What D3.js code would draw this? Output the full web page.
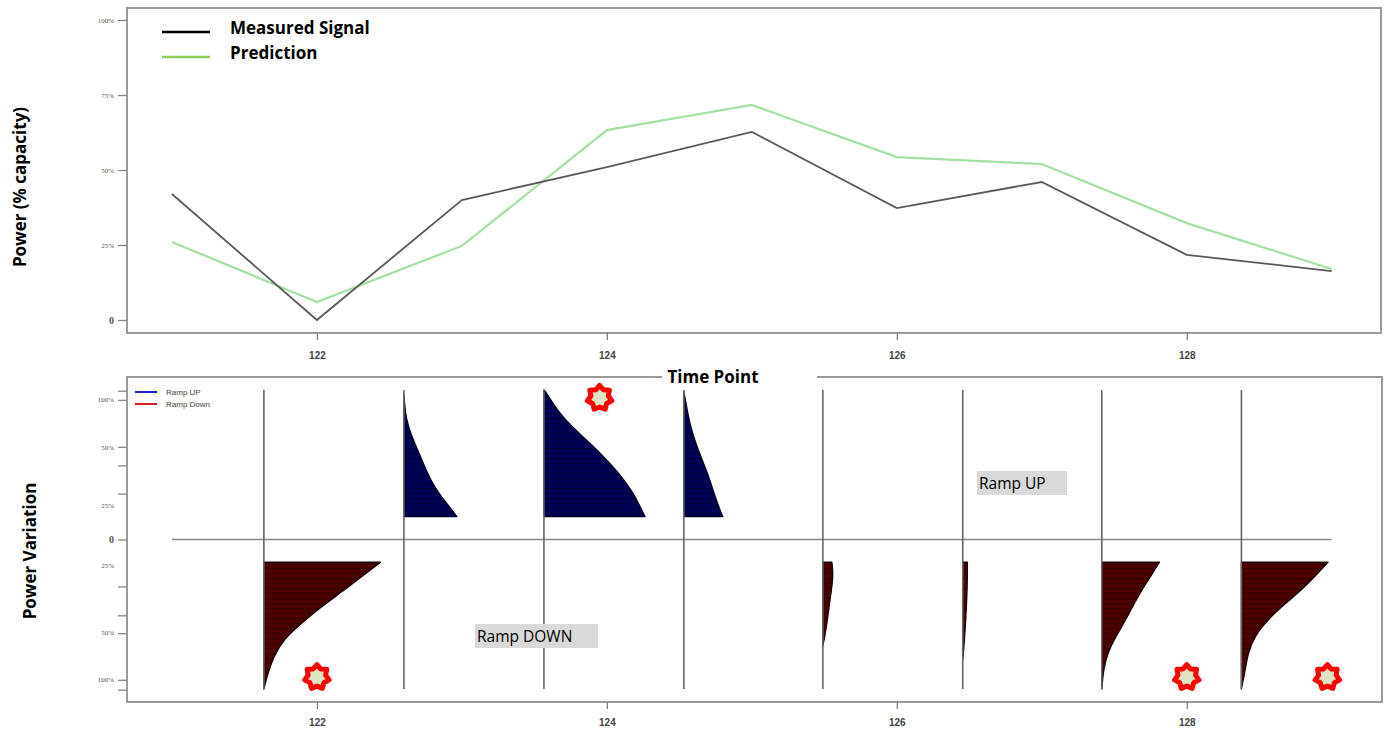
<!DOCTYPE html>
<html>
<head>
<meta charset="utf-8">
<script src="https://cdn.jsdelivr.net/npm/d3@7/dist/d3.min.js"></script>
<style>
  html, body { margin: 0; padding: 0; background: #fff; }
  svg { display: block; }
</style>
</head>
<body>
<svg id="chart" width="1392" height="735"></svg>
<script>
// ---- Power forecast data ----
const timePoints = [121, 122, 123, 124, 125, 126, 127, 128, 129];
const measured   = [42, 0, 40, 51, 62.7, 37.3, 46, 21.7, 16.3];
const prediction = [26, 6, 24.7, 63.3, 71.7, 54.3, 52, 32.3, 17];

const xTicks = [122, 124, 126, 128];
const topYTicks = [0, 25, 50, 75, 100];
const topYLabels = ["0", "25%", "50%", "75%", "100%"];

// ---- Ramp variation panel ----
// Positions of each ramp interval along the time axis
const rampAnchors = [121.634, 122.6, 123.566, 124.531, 125.49, 126.455, 127.414, 128.377];
const rampKind    = ["down", "up", "up", "up", "down", "down", "down", "down"];
// Ramp profiles: vertical level (v) and width in time units (w)
const rampLevels = [
  [-0.162, -0.238, -0.357, -0.476, -0.595, -0.714, -0.834, -0.952, -1.071],
  [1.036, 0.857, 0.738, 0.621, 0.5, 0.381, 0.264, 0.164],
  [1.071, 1.048, 0.929, 0.809, 0.691, 0.571, 0.452, 0.334, 0.214, 0.164],
  [1.059, 0.929, 0.809, 0.691, 0.571, 0.452, 0.334, 0.214, 0.164],
  [-0.162, -0.262, -0.452, -0.643, -0.762],
  [-0.162, -0.333, -0.571, -0.762, -0.857],
  [-0.162, -0.333, -0.452, -0.571, -0.691, -0.809, -0.929, -1.071],
  [-0.162, -0.333, -0.452, -0.571, -0.691, -0.809, -0.929, -1.071]
];
const rampWidths = [
  [0.805, 0.71, 0.563, 0.402, 0.264, 0.138, 0.069, 0.030, 0],
  [0, 0.014, 0.055, 0.103, 0.152, 0.207, 0.29, 0.366],
  [0, 0.019, 0.088, 0.191, 0.317, 0.432, 0.536, 0.616, 0.674, 0.697],
  [0, 0.023, 0.046, 0.081, 0.126, 0.172, 0.207, 0.248, 0.269],
  [0.062, 0.074, 0.046, 0.023, 0],
  [0.032, 0.032, 0.021, 0.009, 0],
  [0.398, 0.294, 0.226, 0.168, 0.099, 0.041, 0.012, 0],
  [0.598, 0.448, 0.310, 0.184, 0.092, 0.046, 0.028, 0]
];
const stemRange = [1.071, -1.071];

const rampTickValues = [1.066, 1.0, 0.664, 0.531, 0.329, 0, -0.336, -0.543, -0.671, -1.005, -1.076];
const rampLabelValues = [1.0, 0.66, 0.243, 0, -0.19, -0.67, -1.0];
const rampLabels = ["100%", "50%", "25%", "0", "25%", "50%", "100%"];

// Highlighted events (time, level)
const eventTimes  = [122, 123.95, 128, 128.97];
const eventLevels = [-0.986, 1.014, -0.986, -0.986];

const svg = d3.select("#chart");
const defs = svg.append("defs");

// Striped fills for the ramp shapes
function stripes(id, base, line) {
  const p = defs.append("pattern").attr("id", id)
    .attr("patternUnits", "userSpaceOnUse").attr("width", 8).attr("height", 5);
  p.append("rect").attr("width", 8).attr("height", 5).attr("fill", base);
  p.append("rect").attr("y", 3).attr("width", 8).attr("height", 1.2).attr("fill", line);
}
stripes("upFill", "#000055", "#00003e");
stripes("downFill", "#4c0000", "#340000");

const L = 127, R = 1381;
const x = d3.scaleLinear().domain([120.69, 129.34]).range([L, R]);

// ================= Top panel =================
const topT = 8, topB = 333;
const yTop = d3.scaleLinear().domain([-4.33, 104]).range([topB, topT]);

const gTop = svg.append("g");
gTop.append("rect").attr("x", L).attr("y", topT).attr("width", R - L).attr("height", topB - topT)
  .attr("fill", "none").attr("stroke", "#9a9a9a").attr("stroke-width", 2);

// y axis
const yAxTop = d3.axisLeft(yTop).tickValues(topYTicks)
  .tickFormat((d, i) => topYLabels[i]).tickSize(9).tickPadding(4);
gTop.append("g").attr("transform", `translate(${L},0)`).call(yAxTop)
  .call(g => g.select(".domain").remove())
  .call(g => g.selectAll("line").attr("stroke", "#888").attr("stroke-width", 1.3))
  .call(g => g.selectAll("text").attr("font-family", "Liberation Serif")
    .attr("font-size", d => d === 0 ? 10 : 7).attr("font-weight", d => d === 0 ? "bold" : "normal")
    .attr("fill", "#555"));

// x axis
const xAxTop = d3.axisBottom(x).tickValues(xTicks).tickSize(7).tickPadding(12);
gTop.append("g").attr("transform", `translate(0,${topB})`).call(xAxTop)
  .call(g => g.select(".domain").remove())
  .call(g => g.selectAll("line").attr("stroke", "#777").attr("stroke-width", 1.2))
  .call(g => g.selectAll("text").attr("font-family", "Liberation Sans").attr("font-weight", "bold")
    .attr("font-size", 10).attr("fill", "#444"));

const line = d3.line().x((d, i) => x(timePoints[i])).y(d => yTop(d));
gTop.append("path").datum(prediction).attr("d", line)
  .attr("fill", "none").attr("stroke", "#a4e0a4").attr("stroke-width", 2.2);
gTop.append("path").datum(measured).attr("d", line)
  .attr("fill", "none").attr("stroke", "#5a5a5a").attr("stroke-width", 1.8);

// legend
const legendItems = [["Measured Signal", "#000"], ["Prediction", "#8dcf58"]];
legendItems.forEach(([label, c], i) => {
  const ly = 28 + i * 25;
  gTop.append("line").attr("x1", 162).attr("x2", 210).attr("y1", ly + 4).attr("y2", ly + 4)
    .attr("stroke", c).attr("stroke-width", 2.5);
  gTop.append("text").attr("x", 230).attr("y", ly).attr("dy", "0.35em")
    .attr("font-family", "Open Sans").attr("font-weight", "bold").attr("font-size", 17)
    .attr("fill", "#000").text(label);
});

svg.append("text").attr("transform", "translate(26,187) rotate(-90)")
  .attr("text-anchor", "middle").attr("font-family", "Open Sans").attr("font-weight", "bold")
  .attr("font-size", 17).text("Power (% capacity)");

// ================= Bottom panel =================
const botT = 377, botB = 702;
const yBot = d3.scaleLinear().domain([-1.164, 1.164]).range([botB, botT]);

const gBot = svg.append("g");
gBot.append("rect").attr("x", L).attr("y", botT).attr("width", R - L + 1).attr("height", botB - botT)
  .attr("fill", "none").attr("stroke", "#9a9a9a").attr("stroke-width", 2);

// y axis ticks and labels (labels placed independently of ticks)
const yAxBot = d3.axisLeft(yBot).tickValues(rampTickValues).tickFormat("").tickSize(9);
gBot.append("g").attr("transform", `translate(${L},0)`).call(yAxBot)
  .call(g => g.select(".domain").remove())
  .call(g => g.selectAll("line").attr("stroke", "#888").attr("stroke-width", 1.3));
gBot.selectAll(".rlab").data(rampLabelValues).join("text").attr("class", "rlab")
  .attr("x", 114).attr("y", d => yBot(d)).attr("dy", "0.35em").attr("text-anchor", "end")
  .attr("font-family", "Liberation Serif").attr("font-size", d => d === 0 ? 10 : 7)
  .attr("font-weight", d => d === 0 ? "bold" : "normal")
  .attr("fill", "#555").text((d, i) => rampLabels[i]);

// x axis
const xAxBot = d3.axisBottom(x).tickValues(xTicks).tickSize(7).tickPadding(10);
gBot.append("g").attr("transform", `translate(0,${botB})`).call(xAxBot)
  .call(g => g.select(".domain").remove())
  .call(g => g.selectAll("line").attr("stroke", "#777").attr("stroke-width", 1.2))
  .call(g => g.selectAll("text").attr("font-family", "Liberation Sans").attr("font-weight", "bold")
    .attr("font-size", 10).attr("fill", "#444"));

// zero line
gBot.append("line").attr("x1", x(121)).attr("x2", x(129)).attr("y1", yBot(0)).attr("y2", yBot(0))
  .attr("stroke", "#888").attr("stroke-width", 1.5);

// ramp shapes
const area = d3.area().curve(d3.curveBasis)
  .y(d => yBot(d.v)).x0(d => x(d.a)).x1(d => x(d.a + d.w));
rampAnchors.forEach((a, i) => {
  const pts = rampLevels[i].map((v, j) => ({ v, w: rampWidths[i][j], a }));
  const up = rampKind[i] === "up";
  gBot.append("path").datum(pts).attr("d", area)
    .attr("fill", up ? "url(#upFill)" : "url(#downFill)")
    .attr("stroke", up ? "#000020" : "#1a0000").attr("stroke-width", 1.3)
    .attr("stroke-linejoin", "round");
});

// vertical stems
gBot.selectAll(".stem").data(rampAnchors).join("line").attr("class", "stem")
  .attr("x1", d => x(d)).attr("x2", d => x(d))
  .attr("y1", yBot(stemRange[0])).attr("y2", yBot(stemRange[1]))
  .attr("stroke", "#666").attr("stroke-width", 1.6);

// legend
const rampLegend = [["Ramp UP", "#2020e0"], ["Ramp Down", "#d02020"]];
rampLegend.forEach(([label, c], i) => {
  const ly = 392 + i * 12;
  gBot.append("line").attr("x1", 135).attr("x2", 157).attr("y1", ly).attr("y2", ly)
    .attr("stroke", c).attr("stroke-width", 2);
  gBot.append("text").attr("x", 166).attr("y", ly).attr("dy", "0.35em")
    .attr("font-family", "Liberation Sans").attr("font-size", 8).attr("fill", "#444").text(label);
});

// event markers (7-point stars)
function starPath(r1, r2, n) {
  const pts = [];
  for (let k = 0; k < 2 * n; k++) {
    const r = k % 2 === 0 ? r1 : r2;
    const ang = -Math.PI / 2 + k * Math.PI / n;
    pts.push([r * Math.cos(ang), r * Math.sin(ang)]);
  }
  return d3.line().curve(d3.curveLinearClosed)(pts);
}
const star = starPath(12.5, 9, 7);
eventTimes.forEach((t, i) => {
  gBot.append("path").attr("d", star)
    .attr("transform", `translate(${x(t)},${yBot(eventLevels[i])})`)
    .attr("fill", "#dbe5c4").attr("stroke", "#ff0000").attr("stroke-width", 5)
    .attr("stroke-linejoin", "round");
});

// annotation boxes
function tagBox(tx, ty, w, h, label) {
  gBot.append("rect").attr("x", tx).attr("y", ty).attr("width", w).attr("height", h).attr("fill", "#d9d9d9");
  gBot.append("text").attr("x", tx + 2).attr("y", ty + h / 2).attr("dy", "0.36em")
    .attr("font-family", "Open Sans").attr("font-size", 15.5).attr("fill", "#000").text(label);
}
tagBox(977, 471, 90, 24, "Ramp UP");
tagBox(475, 624, 123, 24, "Ramp DOWN");

// shared time axis title sitting on the panel border
svg.append("rect").attr("x", 662).attr("y", 366).attr("width", 155).attr("height", 22).attr("fill", "#fff");
svg.append("text").attr("x", 713).attr("y", 377).attr("dy", "0.35em").attr("text-anchor", "middle")
  .attr("font-family", "Open Sans").attr("font-weight", "bold").attr("font-size", 17).text("Time Point");

svg.append("text").attr("transform", "translate(36,551) rotate(-90)")
  .attr("text-anchor", "middle").attr("font-family", "Open Sans").attr("font-weight", "bold")
  .attr("font-size", 17).text("Power Variation");
</script>
</body>
</html>
